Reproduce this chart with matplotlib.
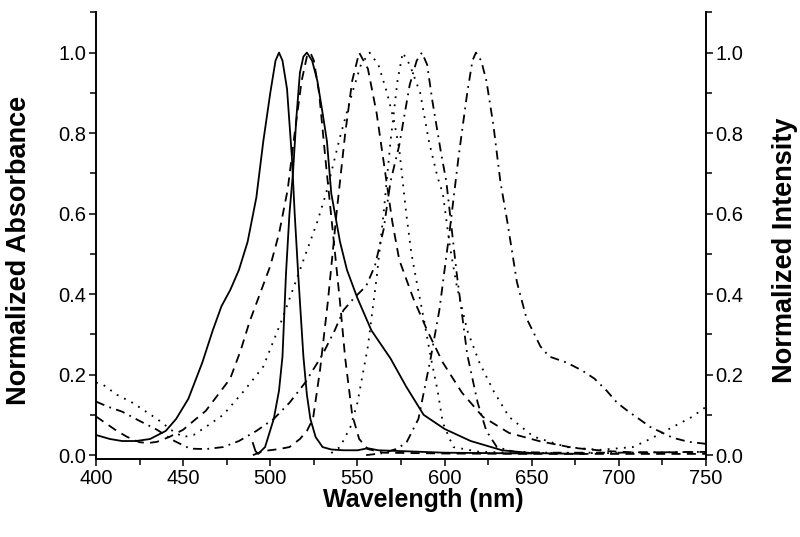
import matplotlib
matplotlib.use("Agg")
import matplotlib.pyplot as plt
from matplotlib.ticker import MultipleLocator

plt.rcParams['font.family'] = ['Liberation Sans', 'DejaVu Sans']

# solid pair
solid_abs_wl = [400, 408, 415, 423, 431, 440, 446, 453, 461, 467, 472, 477, 482, 487, 492, 496, 500,
                503, 505, 507, 509.6, 512.4, 514, 516, 519, 521, 523, 526, 530, 535, 542, 550, 556,
                562, 575, 600, 650]
solid_abs = [0.05, 0.04, 0.035, 0.035, 0.04, 0.06, 0.09, 0.14, 0.23, 0.31, 0.37, 0.41, 0.46, 0.53,
             0.64, 0.78, 0.9, 0.98, 1.0, 0.98, 0.91, 0.74, 0.6, 0.45, 0.245, 0.15, 0.09, 0.045, 0.02,
             0.014, 0.012, 0.012, 0.017, 0.012, 0.01, 0.006, 0.004]
solid_em_wl = [490, 491.5, 493, 497, 502, 505, 507, 509, 511, 513, 515, 517, 519, 521, 524, 527, 530,
               532.5, 535, 540, 544, 550, 558, 569, 578, 588, 600, 615, 633, 650, 680]
solid_em = [0.03, 0.01, 0.003, 0.02, 0.09, 0.16, 0.245, 0.45, 0.6, 0.7, 0.84, 0.95, 0.99, 1.0, 0.98,
            0.93, 0.85, 0.78, 0.65, 0.53, 0.46, 0.39, 0.31, 0.24, 0.17, 0.10, 0.065, 0.035, 0.012,
            0.005, 0.003]

# dashed pair
dash_abs_wl = [400, 406, 412, 418, 425, 430, 435, 442, 450, 456, 463, 470, 477, 483, 488, 494, 500,
               505, 510, 514, 518, 521, 523, 525, 528, 532, 536, 540, 543, 547, 551, 556, 565, 600,
               650, 700, 750]
dash_abs = [0.096, 0.078, 0.06, 0.045, 0.032, 0.03, 0.033, 0.045, 0.063, 0.085, 0.11, 0.15, 0.19,
            0.26, 0.33, 0.4, 0.47, 0.55, 0.66, 0.8, 0.93, 0.99, 1.0, 0.98, 0.9, 0.72, 0.55, 0.38,
            0.24, 0.1, 0.04, 0.015, 0.006, 0.004, 0.003, 0.003, 0.003]
dash_em_wl = [490, 496, 505, 511, 517, 521, 524.5, 528.5, 533, 538, 543, 547, 551, 556, 561, 566, 570,
              574, 582, 590, 599, 610, 622, 637, 655, 674, 693, 708, 730, 750]
dash_em = [0.0, 0.01, 0.015, 0.02, 0.04, 0.06, 0.09, 0.21, 0.38, 0.6, 0.8, 0.93, 1.0, 0.96, 0.85,
           0.7, 0.58, 0.485, 0.39, 0.31, 0.23, 0.155, 0.095, 0.055, 0.034, 0.018, 0.01, 0.007,
           0.007, 0.008]

# dotted pair
dot_abs_wl = [400, 404, 412, 421, 428, 435, 444, 450, 456, 463, 473, 485, 496, 507, 517, 527, 532,
              540, 547, 552, 557, 562, 567, 571, 574, 578, 581, 584, 588, 592, 596, 599, 605, 620,
              650, 700]
dot_abs = [0.18, 0.175, 0.15, 0.13, 0.11, 0.09, 0.06, 0.045, 0.05, 0.07, 0.10, 0.16, 0.22, 0.34,
           0.46, 0.58, 0.65, 0.79, 0.9, 0.97, 1.0, 0.97, 0.9, 0.83, 0.76, 0.6, 0.5, 0.43, 0.34,
           0.245, 0.16, 0.08, 0.02, 0.008, 0.005, 0.005]
dot_em_wl = [535, 540, 546, 550, 553, 556, 561, 565, 569, 573, 576, 580, 586, 591, 596, 599, 603, 607,
             613, 620, 628, 637, 651, 670, 689, 708, 718, 728, 742, 750]
dot_em = [0.005, 0.02, 0.07, 0.13, 0.2, 0.27, 0.44, 0.6, 0.78, 0.93, 1.0, 0.97, 0.9, 0.78, 0.69,
          0.65, 0.52, 0.42, 0.31, 0.23, 0.16, 0.095, 0.046, 0.02, 0.013, 0.02, 0.04, 0.063, 0.095,
          0.12]

# dash-dot pair
dd_abs_wl = [400, 407, 415, 425, 435, 445, 454, 463, 473, 482, 492, 502, 511, 520, 530, 537, 542, 548,
             555, 560, 565, 569, 574, 580, 584, 587, 590, 593, 598, 601, 607, 613, 619, 624, 630,
             640, 660, 700, 750]
dd_abs = [0.133, 0.12, 0.108, 0.085, 0.063, 0.035, 0.016, 0.015, 0.02, 0.035, 0.06, 0.09, 0.13, 0.18,
          0.25, 0.31, 0.36, 0.39, 0.42, 0.47, 0.56, 0.68, 0.77, 0.92, 0.98, 1.0, 0.97, 0.88, 0.75,
          0.68, 0.45, 0.25, 0.13, 0.06, 0.02, 0.008, 0.006, 0.006, 0.008]
dd_em_wl = [555, 565, 572, 578, 585, 592, 597, 603, 608, 613, 616, 618, 621, 624, 628, 632, 636, 641.5,
            647, 655, 660, 670, 679, 686, 693, 699, 705, 718, 731, 740, 750]
dd_em = [0.0, 0.005, 0.015, 0.03, 0.09, 0.24, 0.36, 0.56, 0.74, 0.9, 0.98, 1.0, 0.98, 0.93, 0.82,
         0.68, 0.58, 0.43, 0.34, 0.27, 0.245, 0.23, 0.21, 0.19, 0.16, 0.13, 0.11, 0.07, 0.043,
         0.033, 0.028]

fig = plt.figure(figsize=(8, 5.37), dpi=100)
ax = fig.add_axes([0.12, 0.145, 0.7625, 0.832])

lw = 1.3
ax.plot(solid_abs_wl, solid_abs, color='black', lw=lw)
ax.plot(solid_em_wl, solid_em, color='black', lw=lw)
ax.plot(dash_abs_wl, dash_abs, color='black', lw=lw, dashes=(5, 3.5))
ax.plot(dash_em_wl, dash_em, color='black', lw=lw, dashes=(5, 3.5))
ax.plot(dot_abs_wl, dot_abs, color='black', lw=lw, dashes=(1, 3.5))
ax.plot(dot_em_wl, dot_em, color='black', lw=lw, dashes=(1, 3.5))
ax.plot(dd_abs_wl, dd_abs, color='black', lw=lw, dashes=(5, 3, 1, 3))
ax.plot(dd_em_wl, dd_em, color='black', lw=lw, dashes=(5, 3, 1, 3))

ax.set_xlim(400, 750)
ax.set_ylim(-0.01, 1.1)
ax.xaxis.set_major_locator(MultipleLocator(50))
ax.xaxis.set_minor_locator(MultipleLocator(25))
ax.yaxis.set_major_locator(MultipleLocator(0.2))
ax.yaxis.set_minor_locator(MultipleLocator(0.1))
ax.spines['top'].set_visible(False)

ax2 = ax.twinx()
ax2.set_ylim(-0.01, 1.1)
ax2.yaxis.set_major_locator(MultipleLocator(0.2))
ax2.yaxis.set_minor_locator(MultipleLocator(0.1))
ax2.spines['top'].set_visible(False)

for a in (ax, ax2):
    a.tick_params(which='major', direction='out', length=5, width=1.1, labelsize=14.5, pad=2)
    a.tick_params(which='minor', direction='out', length=4, width=1.1)
    for s in a.spines.values():
        s.set_linewidth(1.2)

ax.set_xlabel('Wavelength (nm)', fontsize=18, fontweight='bold')
ax.set_ylabel('Normalized Absorbance', fontsize=19.5, fontweight='bold')
ax2.set_ylabel('Normalized Intensity', fontsize=19.5, fontweight='bold', rotation=90)
ax.xaxis.set_label_coords(0.537, -0.064)
ax.yaxis.set_label_coords(-0.105, 0.468)
ax2.yaxis.set_label_coords(1.108, 0.468)

fig.savefig('out.png', dpi=100)
